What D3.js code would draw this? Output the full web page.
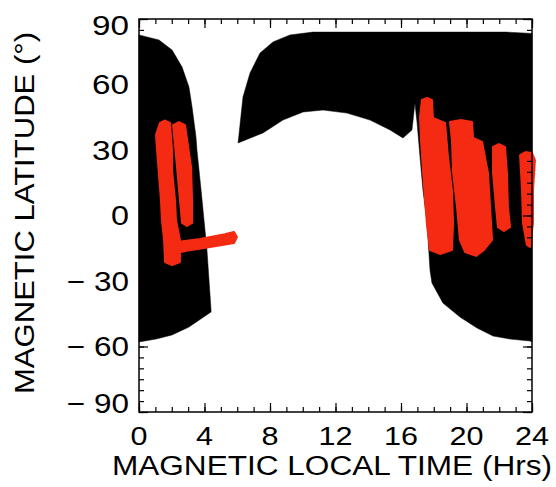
<!DOCTYPE html>
<html><head><meta charset="utf-8">
<script src="https://cdn.jsdelivr.net/npm/d3@7"></script>
<style>
html,body{margin:0;padding:0;background:#fff;}
svg{display:block;}
text{font-family:"Liberation Sans","DejaVu Sans",sans-serif;fill:#000;}
</style></head>
<body>
<svg id="chart" width="556" height="487"></svg>
<script>
// ---- data (MLT in hours, magnetic latitude in degrees) ----
const xTickValues = [0, 4, 8, 12, 16, 20, 24];
const xTickLabels = ["0", "4", "8", "12", "16", "20", "24"];
const yTickValues = [-90, -60, -30, 0, 30, 60, 90];
const yTickLabels = ["\u2212 90", "\u2212 60", "\u2212 30", "0", "30", "60", "90"];
const xMinorValues = d3.range(0, 25, 1);
const yMinorValues = d3.range(-90, 91, 5);
const xTitle = "MAGNETIC LOCAL TIME (Hrs)";
const yTitle = "MAGNETIC LATITUDE (\u00B0)";

// orbit coverage (black)
const coverageDawn = [[0,82.7],[1.22,80.4],[2.02,75.8],[2.63,68.0],[3.05,58.9],[3.24,49.7],[3.48,36.0],[3.54,30.0],[3.79,11.7],[4.15,-15.8],[4.40,-43.3],[4.40,-44.2],[3.05,-51.1],[2.02,-54.7],[1.04,-56.6],[0,-57.9]];
const coverageDay = [[6.05,33.2],[6.35,54.3],[6.78,65.3],[7.39,74.4],[8.18,79.5],[9.22,82.7],[10.63,84.0],[22.41,84.0],[24,83.4],[24,-57.9],[23.88,-57.5],[22.66,-56.6],[21.62,-55.2],[20.64,-51.5],[19.60,-46.5],[18.56,-40.1],[17.89,-30.9],[17.77,-25.0],[17.59,-3.4],[17.34,11.7],[17.16,26.8],[16.98,42.6],[16.85,51.5],[16.67,39.2],[16.12,35.5],[15.33,39.2],[14.11,43.7],[12.70,46.9],[11.24,48.3],[10.02,47.4],[8.79,43.7],[7.57,37.8]];

// detected events (red)
const eventsA = [[1.28,42.4],[1.04,36.9],[1.10,30.0],[1.22,18.5],[1.34,7.1],[1.40,-2.1],[1.53,-11.2],[1.59,-21.3],[2.02,-22.7],[2.50,-21.3],[2.50,-11.2],[2.26,-2.1],[2.20,7.1],[2.02,20.8],[2.02,30.0],[1.89,42.4],[1.59,43.5]];
const eventsB = [[2.08,41.4],[2.32,22.2],[2.50,7.1],[2.63,-3.4],[2.93,-4.8],[3.24,-3.4],[3.24,7.1],[3.18,22.2],[2.81,41.4],[2.44,42.8]];
const eventsC = [[2.32,-12.1],[3.73,-10.8],[5.25,-8.6],[5.80,-7.6],[5.98,-9.9],[5.80,-12.6],[4.34,-14.4],[2.81,-16.3],[2.32,-17.2]];
const eventsD = [[17.59,53.8],[17.28,52.9],[17.16,44.9],[17.22,34.6],[17.34,20.8],[17.47,7.1],[17.59,-4.4],[17.77,-15.8],[18.38,-17.6],[19.11,-15.8],[19.18,-3.4],[19.11,11.7],[18.87,26.8],[18.69,42.4],[17.95,44.7],[17.89,52.9]];
const eventsE = [[19.66,43.7],[18.99,42.8],[19.11,34.6],[19.18,19.5],[19.42,3.9],[19.60,-11.2],[19.91,-16.7],[20.58,-18.5],[21.07,-15.8],[21.56,-11.2],[21.44,3.9],[21.31,19.5],[20.95,33.7],[20.40,35.5],[20.34,42.8]];
const eventsF = [[21.98,32.7],[21.62,31.4],[21.62,19.5],[21.80,3.9],[21.92,-5.3],[22.29,-7.1],[22.66,-5.3],[22.53,3.9],[22.47,19.5],[22.35,31.4]];
const eventsG = [[23.63,29.1],[23.27,27.7],[23.39,11.7],[23.45,-3.4],[23.69,-13.5],[23.88,-14.4],[24.06,-3.4],[24.06,11.7],[24.18,25.4],[24.0,28.6]];

// ---- layout ----
const L = 139, R = 532, T = 19, B = 412;
const svg = d3.select("#chart");
const x = d3.scaleLinear().domain([0, 24]).range([L, R]);
const y = d3.scaleLinear().domain([-90, 90]).range([B, T]);
const line = d3.line().x(d => x(d[0])).y(d => y(d[1])).curve(d3.curveLinear);

const black = "#000000", red = "#f42a12";

[coverageDawn, coverageDay].forEach(poly => {
  svg.append("path").attr("d", line(poly) + "Z").attr("fill", black).attr("stroke", black).attr("stroke-width", 0.5);
});
[eventsA, eventsB, eventsC, eventsD, eventsE, eventsF, eventsG].forEach(poly => {
  svg.append("path").attr("d", line(poly) + "Z").attr("fill", red)
    .attr("stroke", red).attr("stroke-width", 2).attr("stroke-linejoin", "round");
});

// ---- axes ----
function styleAxis(g) {
  g.select(".domain").remove();
  g.selectAll(".tick line").attr("stroke", "#000").attr("stroke-width", 1.2);
}
svg.append("g").attr("transform", `translate(0,${B})`).call(d3.axisBottom(x).tickValues(xMinorValues).tickSize(-5).tickFormat("")).call(styleAxis);
svg.append("g").attr("transform", `translate(0,${B})`).call(d3.axisBottom(x).tickValues(xTickValues).tickSize(-9).tickFormat("")).call(styleAxis);
svg.append("g").attr("transform", `translate(0,${T})`).call(d3.axisTop(x).tickValues(xMinorValues).tickSize(-5).tickFormat("")).call(styleAxis);
svg.append("g").attr("transform", `translate(0,${T})`).call(d3.axisTop(x).tickValues(xTickValues).tickSize(-9).tickFormat("")).call(styleAxis);
svg.append("g").attr("transform", `translate(${L},0)`).call(d3.axisLeft(y).tickValues(yMinorValues).tickSize(-5).tickFormat("")).call(styleAxis);
svg.append("g").attr("transform", `translate(${L},0)`).call(d3.axisLeft(y).tickValues(yTickValues).tickSize(-9).tickFormat("")).call(styleAxis);
svg.append("g").attr("transform", `translate(${R},0)`).call(d3.axisRight(y).tickValues(yMinorValues).tickSize(-5).tickFormat("")).call(styleAxis);
svg.append("g").attr("transform", `translate(${R},0)`).call(d3.axisRight(y).tickValues(yTickValues).tickSize(-9).tickFormat("")).call(styleAxis);

svg.append("rect").attr("x", L).attr("y", T).attr("width", R - L).attr("height", B - T)
  .attr("fill", "none").attr("stroke", "#000").attr("stroke-width", 1.5);

// tick labels
svg.append("g").selectAll("text").data(xTickValues).join("text")
  .attr("x", d => x(d)).attr("y", 445).attr("text-anchor", "middle")
  .style("font-size", "26px")
  .each(function(d, i) {
    const s = xTickLabels[i];
    const t = d3.select(this).text(s);
    t.attr("textLength", s.length === 1 ? 17 : 34).attr("lengthAdjust", "spacingAndGlyphs");
  });
const yNudge = {"-90": -9, "90": 6};
svg.append("g").selectAll("text").data(yTickValues).join("text")
  .attr("x", 129).attr("y", d => y(d) + (yNudge[d] || 0)).attr("dy", "0.36em").attr("text-anchor", "end")
  .style("font-size", "27px").style("white-space", "pre")
  .each(function(d, i) {
    const s = yTickLabels[i];
    const t = d3.select(this).text(s);
    if (s.length === 1) t.attr("textLength", 18).attr("lengthAdjust", "spacingAndGlyphs");
    else if (s.length === 2) t.attr("textLength", 37).attr("lengthAdjust", "spacingAndGlyphs");
    else t.attr("textLength", 62).attr("lengthAdjust", "spacingAndGlyphs");
  });

// titles
svg.append("text").attr("x", 332).attr("y", 475).attr("text-anchor", "middle")
  .attr("textLength", 440).attr("lengthAdjust", "spacingAndGlyphs")
  .style("font-size", "27px").text(xTitle);
svg.append("text").attr("transform", "translate(34,213) rotate(-90)").attr("text-anchor", "middle")
  .attr("textLength", 362).attr("lengthAdjust", "spacingAndGlyphs")
  .style("font-size", "28px").text(yTitle);
</script>
</body></html>
